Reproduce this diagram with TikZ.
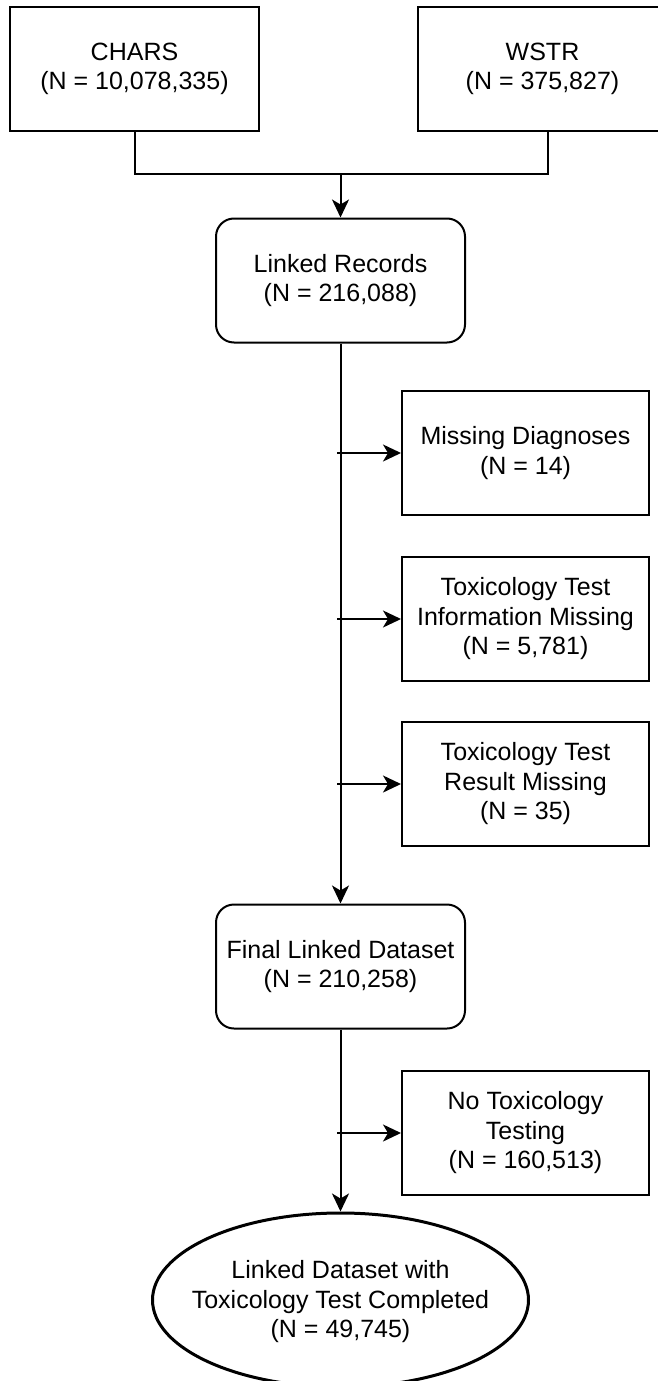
\documentclass[tikz,border=0pt]{standalone}
\usepackage{fontspec}
\setmainfont{Liberation Sans}
\usetikzlibrary{arrows.meta,shapes.geometric}
\begin{document}
\begin{tikzpicture}[x=1pt,y=-1pt,
  txt/.style={font=\fontsize{25}{29.5}\selectfont, align=center, text=black},
  sqbox/.style={txt, draw, line width=2pt, rectangle, minimum width=249pt, minimum height=124pt, inner sep=0pt},
  sidebox/.style={sqbox, minimum width=247pt},
  rbox/.style={sqbox, rounded corners=18pt},
  endell/.style={draw, ellipse, line width=3pt, minimum width=376pt, minimum height=174pt, inner sep=0pt},
  link/.style={line width=2pt},
  arr/.style={link, -{Stealth[length=18pt,width=17pt,inset=5pt]}}]
\clip (0,0) rectangle (658,1381);
\fill[white] (0,0) rectangle (658,1381);
% source boxes
\node[sqbox] (chars) at (134.5,69) {CHARS\\(N = 10,078,335)};
\node[sqbox] (wstr) at (542.5,69) {WSTR\\(N = 375,827)};
\coordinate (wstrout) at (548,131);
\coordinate (join) at (340.5,174);
% main flow
\node[rbox] (linked) at (340.5,280.5) {Linked Records\\(N = 216,088)};
\node[rbox] (final) at (340.5,966.5) {Final Linked Dataset\\(N = 210,258)};
\node[endell] (done) at (340.5,1300) {};
\node[txt] (donetxt) at (340.5,1302) {Linked Dataset with\\Toxicology Test Completed\\(N = 49,745)};
% exclusion boxes
\node[sidebox] (md) at (525.5,453) {Missing Diagnoses\\(N = 14)};
\node[sidebox] (tim) at (525.5,619) {Toxicology Test\\Information Missing\\(N = 5,781)};
\node[sidebox] (trm) at (525.5,784) {Toxicology Test\\Result Missing\\(N = 35)};
\node[sidebox] (nott) at (525.5,1133) {No Toxicology\\Testing\\(N = 160,513)};
% connectors
\draw[link] (chars.south) |- (join) -| (wstrout);
\draw[arr] (join) -- (linked.north);
\draw[arr] (linked.south) -- (final.north);
\draw[arr] (final.south) -- (done.north);
\coordinate (b1) at (337,453);
\coordinate (b2) at (337,619);
\coordinate (b3) at (337,784);
\coordinate (b4) at (337,1133);
\draw[arr] (b1) -- (md.west);
\draw[arr] (b2) -- (tim.west);
\draw[arr] (b3) -- (trm.west);
\draw[arr] (b4) -- (nott.west);
\end{tikzpicture}
\end{document}
